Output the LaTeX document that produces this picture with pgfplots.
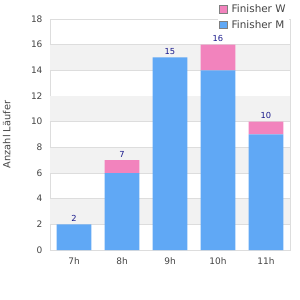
\documentclass[border=0pt]{standalone}
\usepackage{fontspec}
\setmainfont{DejaVu Sans}
\usepackage{pgfplots}
\pgfplotsset{compat=1.18}
\definecolor{barM}{HTML}{60A8F5}
\definecolor{barW}{HTML}{F283BD}
\definecolor{band}{HTML}{F2F2F2}
\definecolor{gridc}{HTML}{DDDDDD}
\definecolor{lbl}{HTML}{1A1A8C}
\definecolor{tickc}{HTML}{444444}
\begin{document}
\begin{tikzpicture}
\begin{axis}[
 at={(0pt,0pt)}, anchor=south west,
 scale only axis, width=240pt, height=231pt,
 ybar stacked, bar width=0.729,
 xmin=-0.5, xmax=4.5, ymin=0, ymax=18,
 xtick={0,...,4}, xticklabels={7h,8h,9h,10h,11h},
 ytick={0,2,...,18},
 extra y ticks={3,7,11,15}, extra y tick labels={},
 extra y tick style={grid=major, major grid style={band, line width=24.9pt}},
 ymajorgrids, grid style={gridc, line width=0.7pt},
 axis line style={draw=gridc, line width=0.9pt},
 major tick length=0pt,
 tick label style={font=\fontsize{9}{11}\selectfont, text=tickc},
 /pgf/number format/assume math mode=true,
 yticklabel style={xshift=-4pt},
 xticklabel style={yshift=-4pt},
 ylabel={Anzahl Läufer},
 ylabel style={at={(axis description cs:-0.18,0.5)}, anchor=center, font=\fontsize{9.8}{11}\selectfont, text=tickc},
 legend style={at={(axis description cs:0.995,1.075)}, anchor=north east, draw=none, fill=white,
   font=\fontsize{10.4}{12}\selectfont, text=tickc, inner sep=1pt, row sep=2pt,
   cells={anchor=west}},
 legend image code/.code={\draw[#1, draw=gray, line width=0.8pt] (0pt,-3.8pt) rectangle (7.6pt,3.8pt); \path (10pt,0pt);},
 reverse legend,
]
\addplot[fill=barM, draw=none] coordinates {(0,2) (1,6) (2,15) (3,14) (4,9)};
\addlegendentry{Finisher M}
\addplot[fill=barW, draw=none] coordinates {(0,0) (1,1) (2,0) (3,2) (4,1)};
\addlegendentry{Finisher W}
\end{axis}
\begin{axis}[
 at={(0pt,0pt)}, anchor=south west,
 scale only axis, width=240pt, height=231pt,
 xmin=-0.5, xmax=4.5, ymin=0, ymax=18,
 hide axis,
 /pgf/number format/assume math mode=true,
]
\addplot[draw=none, mark=none, point meta=y, nodes near coords,
  every node near coord/.append style={font=\fontsize{8.3}{9}\selectfont, text=lbl, anchor=south, inner sep=2.5pt}]
  coordinates {(0,2) (1,7) (2,15) (3,16) (4,10)};
\end{axis}
\pgfresetboundingbox
\path[use as bounding box] (-50pt,-50pt) rectangle (250pt,250pt);
\end{tikzpicture}
\end{document}
